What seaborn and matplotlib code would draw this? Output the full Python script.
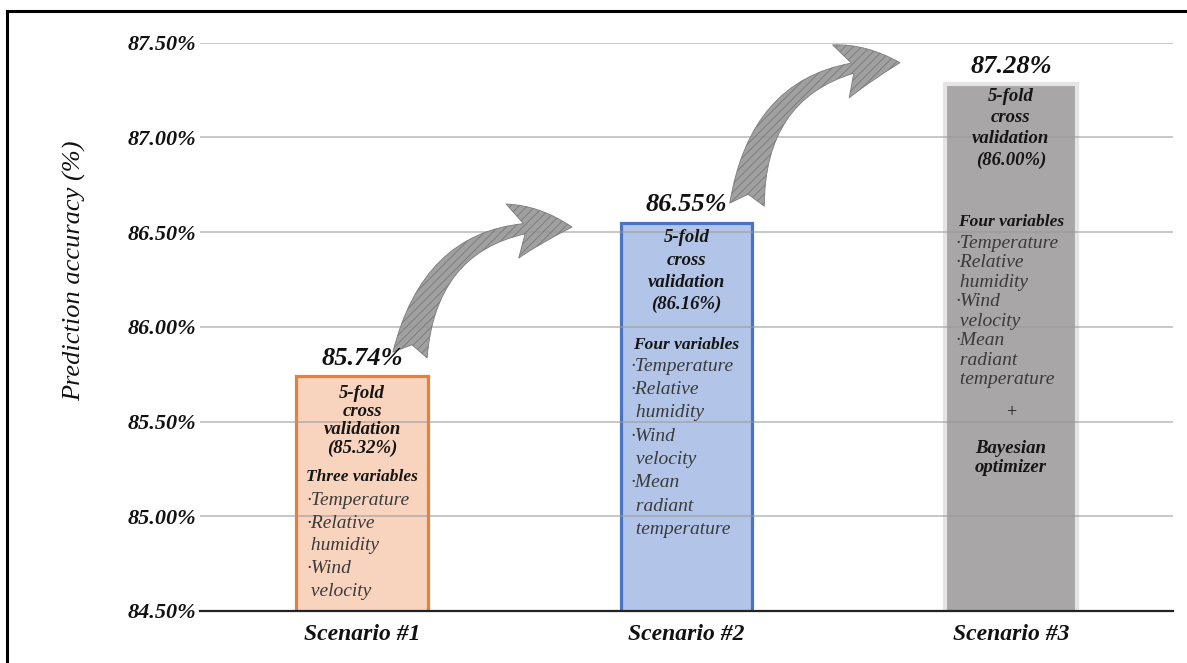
import matplotlib
matplotlib.use("Agg")
import matplotlib.pyplot as plt
import seaborn as sns
import pandas as pd
from matplotlib.patches import FancyArrowPatch, ArrowStyle
from matplotlib.lines import Line2D

# ---------------- data ----------------
scenarios = ["Scenario #1", "Scenario #2", "Scenario #3"]
accuracy = [85.74, 86.55, 87.28]
cv_labels = ["(85.32%)", "(86.16%)", "(86.00%)"]
var_titles = ["Three variables", "Four variables", "Four variables"]
var_lists = [
    ["·Temperature", "·Relative", " humidity", "·Wind", " velocity"],
    ["·Temperature", "·Relative", " humidity", "·Wind", " velocity",
     "·Mean", " radiant", " temperature"],
    ["·Temperature", "·Relative", " humidity", "·Wind", " velocity",
     "·Mean", " radiant", " temperature"],
]
extra_plus = "+"
extra_bayes = ["Bayesian", "optimizer"]
y_ticks = [84.50, 85.00, 85.50, 86.00, 86.50, 87.00, 87.50]

# ---------------- style ----------------
fills = ["#F8D4BF", "#B2C5E8", "#A8A6A7"]
edges = ["#E5813E", "#4A73C2", "#E4E4E4"]
edge_w = [2.3, 2.3, 3.0]
bar_width = 0.405

# text layout (pixels below each bar top)
header_start = [17, 15.3, 12]
header_step = [18.3, 22.2, 21.3]
title_dy = [100.7, 122, 138]
list_start = [124, 143.7, 159]
list_step = [22.9, 23.3, 19.5]
plus_dy = 328
bayes_start, bayes_step = 364, 19

sns.set_theme(style="white")
SERIF = ["Liberation Serif", "DejaVu Serif"]
plt.rcParams["font.family"] = SERIF
plt.rcParams["hatch.linewidth"] = 0.6

W, H = 1187, 663
fig = plt.figure(figsize=(W / 100, H / 100), dpi=100)
ax_left, ax_right, ax_top, ax_bot = 200, 1173, 42.7, 611
ax = fig.add_axes([ax_left / W, 1 - ax_bot / H, (ax_right - ax_left) / W, (ax_bot - ax_top) / H])

df = pd.DataFrame({"scenario": scenarios, "accuracy": accuracy})
sns.barplot(data=df, x="scenario", y="accuracy", hue="scenario", palette=fills,
            width=bar_width, legend=False, saturation=1, ax=ax, zorder=1)

bars = sorted(ax.patches, key=lambda p: p.get_x())
for p, ec, lw in zip(bars, edges, edge_w):
    p.set_edgecolor(ec)
    p.set_linewidth(lw)

ax.set_ylim(y_ticks[0], y_ticks[-1])
ax.set_xlim(-0.5, len(scenarios) - 0.5)
ax.set_yticks(y_ticks)
ax.set_yticklabels([f"{v:.2f}%" for v in y_ticks], fontsize=16,
                   fontweight="bold", fontstyle="italic", color="#111111")
ax.set_xticks(range(len(scenarios)))
ax.set_xticklabels(scenarios, fontsize=17, fontweight="bold",
                   fontstyle="italic", color="#111111")
ax.tick_params(axis="y", length=0, pad=3)
ax.tick_params(axis="x", length=0, pad=9)
ax.set_xlabel("")
ax.set_ylabel("")

ax.set_axisbelow(False)
ax.grid(axis="y", color="#9a9a9a", alpha=0.55, linewidth=1.4, zorder=2)
ax.grid(axis="x", visible=False)
for s in ["left", "right", "top"]:
    ax.spines[s].set_visible(False)
ax.spines["bottom"].set_color("#222222")
ax.spines["bottom"].set_linewidth(1.6)
ax.spines["bottom"].set_zorder(3)

PX = 0.72  # px -> points


def put(i, top, text, dy_px, anchor="center", dx_px=0, **kw):
    x = i if anchor == "center" else i - bar_width / 2
    ax.annotate(text, xy=(x, top), xytext=(dx_px * PX, -dy_px * PX),
                textcoords="offset points", va="center",
                ha="center" if anchor == "center" else "left",
                zorder=4, annotation_clip=False, **kw)


bold_kw = dict(fontsize=13.5, fontweight="bold", fontstyle="italic", color="#151515")
title_kw = dict(fontsize=12.5, fontweight="bold", fontstyle="italic", color="#151515")
list_kw = dict(fontsize=14, fontstyle="italic", color="#3a3a3a")

for i, top in enumerate(accuracy):
    # value label above bar
    put(i, top, f"{top:.2f}%", -17.7, fontsize=19, fontweight="bold",
        fontstyle="italic", color="#111111")
    header = ["5-fold", "cross", "validation", cv_labels[i]]
    for k, line in enumerate(header):
        put(i, top, line, header_start[i] + k * header_step[i], **bold_kw)
    put(i, top, var_titles[i], title_dy[i], **title_kw)
    for k, line in enumerate(var_lists[i]):
        put(i, top, line, list_start[i] + k * list_step[i], anchor="left",
            dx_px=10, **list_kw)

# extras in scenario 3
put(2, accuracy[2], extra_plus, plus_dy, fontsize=13, color="#151515")
for k, line in enumerate(extra_bayes):
    put(2, accuracy[2], line, bayes_start + k * bayes_step, **bold_kw)

# sketchy arrows (axes-fraction layout)
arrow_tails = [(0.2158, 0.4504), (0.5622, 0.7150)]
arrow_heads = [(0.3823, 0.6757), (0.7194, 0.9648)]
style = ArrowStyle("fancy", head_length=0.43, head_width=0.4, tail_width=0.25)
for a, b in zip(arrow_tails, arrow_heads):
    arr = FancyArrowPatch(a, b, transform=ax.transAxes, arrowstyle=style,
                          mutation_scale=100, connectionstyle="arc3,rad=-0.45",
                          facecolor="#969696", edgecolor="#747474", hatch="////",
                          linewidth=0.6, alpha=0.9, shrinkA=0, shrinkB=0,
                          clip_on=False, zorder=3)
    ax.add_patch(arr)

# y axis title
fig.text(75 / W, 1 - 271 / H, "Prediction accuracy (%)", rotation=90,
         ha="center", va="center", fontsize=19, fontstyle="italic", color="#111111")

# outer frame (left and top sides visible)
fx, fy = 7 / W, 1 - 11 / H
fig.add_artist(Line2D([fx, fx], [0, fy], transform=fig.transFigure,
                      color="black", linewidth=2.2, solid_capstyle="projecting"))
fig.add_artist(Line2D([fx, 1], [fy, fy], transform=fig.transFigure,
                      color="black", linewidth=2.2, solid_capstyle="projecting"))

fig.savefig("out.png", dpi=100, facecolor="white")
